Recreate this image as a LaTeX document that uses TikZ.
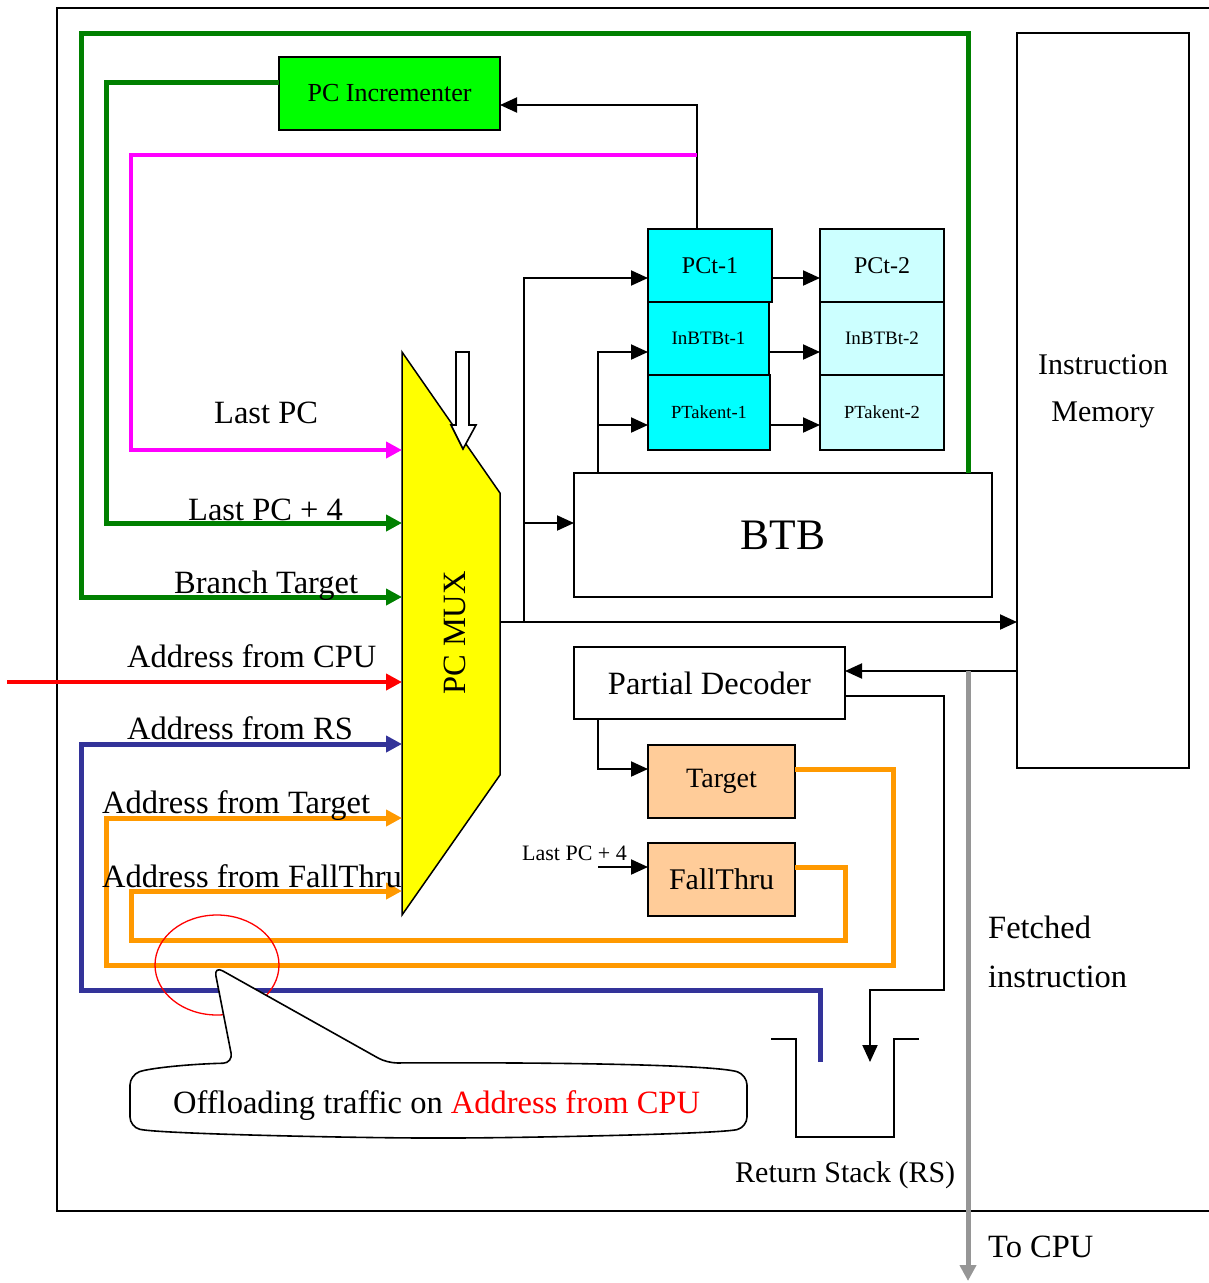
\documentclass[tikz,border=0pt]{standalone}
\usepackage{fontspec}
\setmainfont{Liberation Serif}
\usetikzlibrary{arrows.meta,calc}
\definecolor{dgreen}{RGB}{0,128,0}
\definecolor{bgreen}{RGB}{0,255,0}
\definecolor{mag}{RGB}{255,0,255}
\definecolor{cyanA}{RGB}{0,255,255}
\definecolor{cyanB}{RGB}{204,255,255}
\definecolor{peach}{RGB}{255,204,153}
\definecolor{orng}{RGB}{255,153,0}
\definecolor{navyb}{RGB}{51,51,153}
\definecolor{redl}{RGB}{255,0,0}
\definecolor{grayl}{RGB}{150,150,150}
\definecolor{yell}{RGB}{255,255,0}
\newcommand\fsz[1]{\fontsize{#1}{#1}\selectfont}
\begin{document}
\begin{tikzpicture}[x=1pt,y=-1pt,
  box/.style={draw=black, line width=2.6pt, inner sep=0pt, outer sep=0pt, align=center},
  lbl/.style={inner sep=0pt, font=\fsz{32.5}},
  conn/.style={draw=black, line width=2pt},
  bk/.style={conn, -{Triangle[length=17pt,width=15pt]}},
  col/.style={line width=5pt, -{Triangle[length=16pt,width=16pt]}},
]
\useasboundingbox (0,0) rectangle (1209,1283);
% outer frame
\draw[line width=2.4pt] (1209,8) -- (57,8) -- (57,1211) -- (1209,1211);

% boxes
\node[box, fill=bgreen, minimum width=221, minimum height=73, font=\fsz{26}] (inc) at (389.5,93.5) {PC Incrementer};
\node[box, fill=cyanA, minimum width=124, minimum height=73, font=\fsz{24}] (pct1) at (710,265.5) {PCt-1};
\node[box, fill=cyanA, minimum width=121, minimum height=73, font=\fsz{19}] (inb1) at (708.5,338.5) {InBTBt-1};
\node[box, fill=cyanA, minimum width=122, minimum height=75, font=\fsz{18.5}] (ptk1) at (709,412.5) {PTakent-1};
\node[box, fill=cyanB, minimum width=124, minimum height=73, font=\fsz{24}] (pct2) at (882,265.5) {PCt-2};
\node[box, fill=cyanB, minimum width=124, minimum height=73, font=\fsz{19}] (inb2) at (882,338.5) {InBTBt-2};
\node[box, fill=cyanB, minimum width=124, minimum height=75, font=\fsz{18.5}] (ptk2) at (882,412.5) {PTakent-2};
\node[box, fill=white, minimum width=418, minimum height=124, font=\fsz{43.5}] (btb) at (783,535) {BTB};
\node[box, minimum width=172, minimum height=735] (im) at (1103,400.5) {};
\node[lbl, font=\fsz{30}, anchor=base] (imt1) at (1103,374) {Instruction};
\node[lbl, font=\fsz{30}, anchor=base] (imt2) at (1103,421) {Memory};
\node[box, minimum width=271, minimum height=72, font=\fsz{32.5}] (pd) at (709.5,683) {Partial Decoder};
\node[box, fill=peach, minimum width=147, minimum height=73, font=\fsz{28}] (tgt) at (721.5,781.5) {Target};
\node[box, fill=peach, minimum width=147, minimum height=73, font=\fsz{30}] (ft) at (721.5,879.5) {FallThru};

% PC MUX
\draw[fill=yell, line width=1.5pt] (402,352) -- (500,493) -- (500,775) -- (402,915) -- cycle;
\draw[fill=white, line width=1.6pt] (456,352) -- (469,352) -- (469,425) -- (476,425) -- (463,449) -- (451,425) -- (456,425) -- cycle;
\node[lbl, rotate=90] (muxt) at (455,633) {PC MUX};

% mux input coordinates
\coordinate (in1) at (402,450);
\coordinate (in2) at (402,523);
\coordinate (in3) at (402,597);
\coordinate (in4) at (402,682);
\coordinate (in5) at (402,744);
\coordinate (in6) at (402,818);
\coordinate (in7) at (402,891);
\coordinate (mout) at (500,622);
\coordinate (jx) at (524,622);
\coordinate (btbtop) at (968,473);
\coordinate (mj) at (697,155);
\coordinate (cpu) at (7,682);
\coordinate (rsin) at (820,1062);
\coordinate (imo) at (1017,671);
\coordinate (gj) at (968,671);
\coordinate (tocpu) at (968,1281);
\coordinate (lp4) at (598,867);

% green loops
\draw[col, draw=dgreen] (btbtop) |- (81,33) |- (in3);
\draw[col, draw=dgreen] ($(inc.north west)+(0,25)$) -| (106,523) -- (in2);
% black into PC incrementer
\draw[bk] ($(pct1.north west)+(49,0)$) |- ($(inc.north east)+(0,48)$);
% magenta
\draw[col, draw=mag, line width=4.5pt] (mj) -| (131,450) -- (in1);
% red
\draw[col, draw=redl, line width=4.5pt] (cpu) -- (in4);
% blue
\draw[col, draw=navyb] (rsin) |- (81,990) |- (in5);
% orange
\draw[col, draw=orng] ($(tgt.north east)+(0,24)$) -| (893,965) -| (106,818) -- (in6);
\draw[col, draw=orng] ($(ft.north east)+(0,24)$) -| (845,940) -| (131,891) -- (in7);

% mux output
\draw[bk] (mout) -- (im.west |- mout);
\draw[bk] (jx) |- ($(pct1.south west)+(0,-24)$);
\draw[bk] (524,523) -- ($(btb.north west)+(0,50)$);
% BTB to registers
\draw[bk] ($(btb.north west)+(24,0)$) |- ($(inb1.south west)+(0,-23)$);
\draw[bk] (598,425) -- ($(ptk1.south west)+(0,-25)$);
% register stage arrows
\draw[bk] ($(pct1.south east)+(0,-24)$) -- ($(pct2.south west)+(0,-24)$);
\draw[bk] ($(inb1.south east)+(0,-23)$) -- ($(inb2.south west)+(0,-23)$);
\draw[bk] ($(ptk1.south east)+(0,-25)$) -- ($(ptk2.south west)+(0,-25)$);

% instruction memory to partial decoder
\draw[bk] (imo) -- (pd.east |- imo);
\draw[grayl, line width=5pt, -{Triangle[length=16pt,width=16pt]}] (gj) -- (tocpu);
% partial decoder to RS
\draw[bk] ($(pd.south east)+(0,-23)$) -| (944,990) -| (870,1062);
% partial decoder to target
\draw[bk] ($(pd.south west)+(24,0)$) |- ($(tgt.north west)+(0,24)$);
% last pc + 4 to fallthru
\draw[bk] (lp4) -- ($(ft.north west)+(0,24)$);
\node[lbl, font=\fsz{22}, anchor=base west] (lp4t) at (522,860) {Last PC + 4};

% Return stack
\draw[line width=2pt] (771,1039) -- (796,1039) -- (796,1137) -- (894,1137) -- (894,1039) -- (919,1039);
\node[lbl, font=\fsz{30}, anchor=base west] (rst) at (735,1182) {Return Stack (RS)};

% mux labels
\node[lbl, anchor=base west] (t1) at (214,423) {Last PC};
\node[lbl, anchor=base west] (t2) at (188,520) {Last PC + 4};
\node[lbl, anchor=base west] (t3) at (174,593) {Branch Target};
\node[lbl, anchor=base west] (t4) at (127,667) {Address from CPU};
\node[lbl, anchor=base west] (t5) at (127,739) {Address from RS};
\node[lbl, anchor=base west] (t6) at (102,813) {Address from Target};
\node[lbl, anchor=base west] (t7) at (102,887) {Address from FallThru};

% right labels
\node[lbl, anchor=base west] (f1) at (988,938) {Fetched};
\node[lbl, anchor=base west] (f2) at (988,987) {instruction};
\node[lbl, anchor=base west] (f3) at (988,1257) {To CPU};

% callout
\draw[redl, line width=1.3pt] (217,965) ellipse [x radius=62pt, y radius=50pt];
\draw[line width=1.6pt, fill=white, rounded corners=10pt]
  (130,1075) .. controls (150,1068) and (190,1064) .. (233,1063)
  -- (214,966) -- (387,1063)
  .. controls (600,1062) and (720,1066) .. (747,1075)
  -- (747,1127)
  .. controls (720,1134) and (520,1138) .. (438,1138)
  .. controls (360,1138) and (160,1134) .. (130,1127) -- cycle;
\node[lbl, anchor=base west] (ct) at (173,1113) {Offloading traffic on \textcolor{redl}{Address from CPU}};
\end{tikzpicture}
\end{document}
